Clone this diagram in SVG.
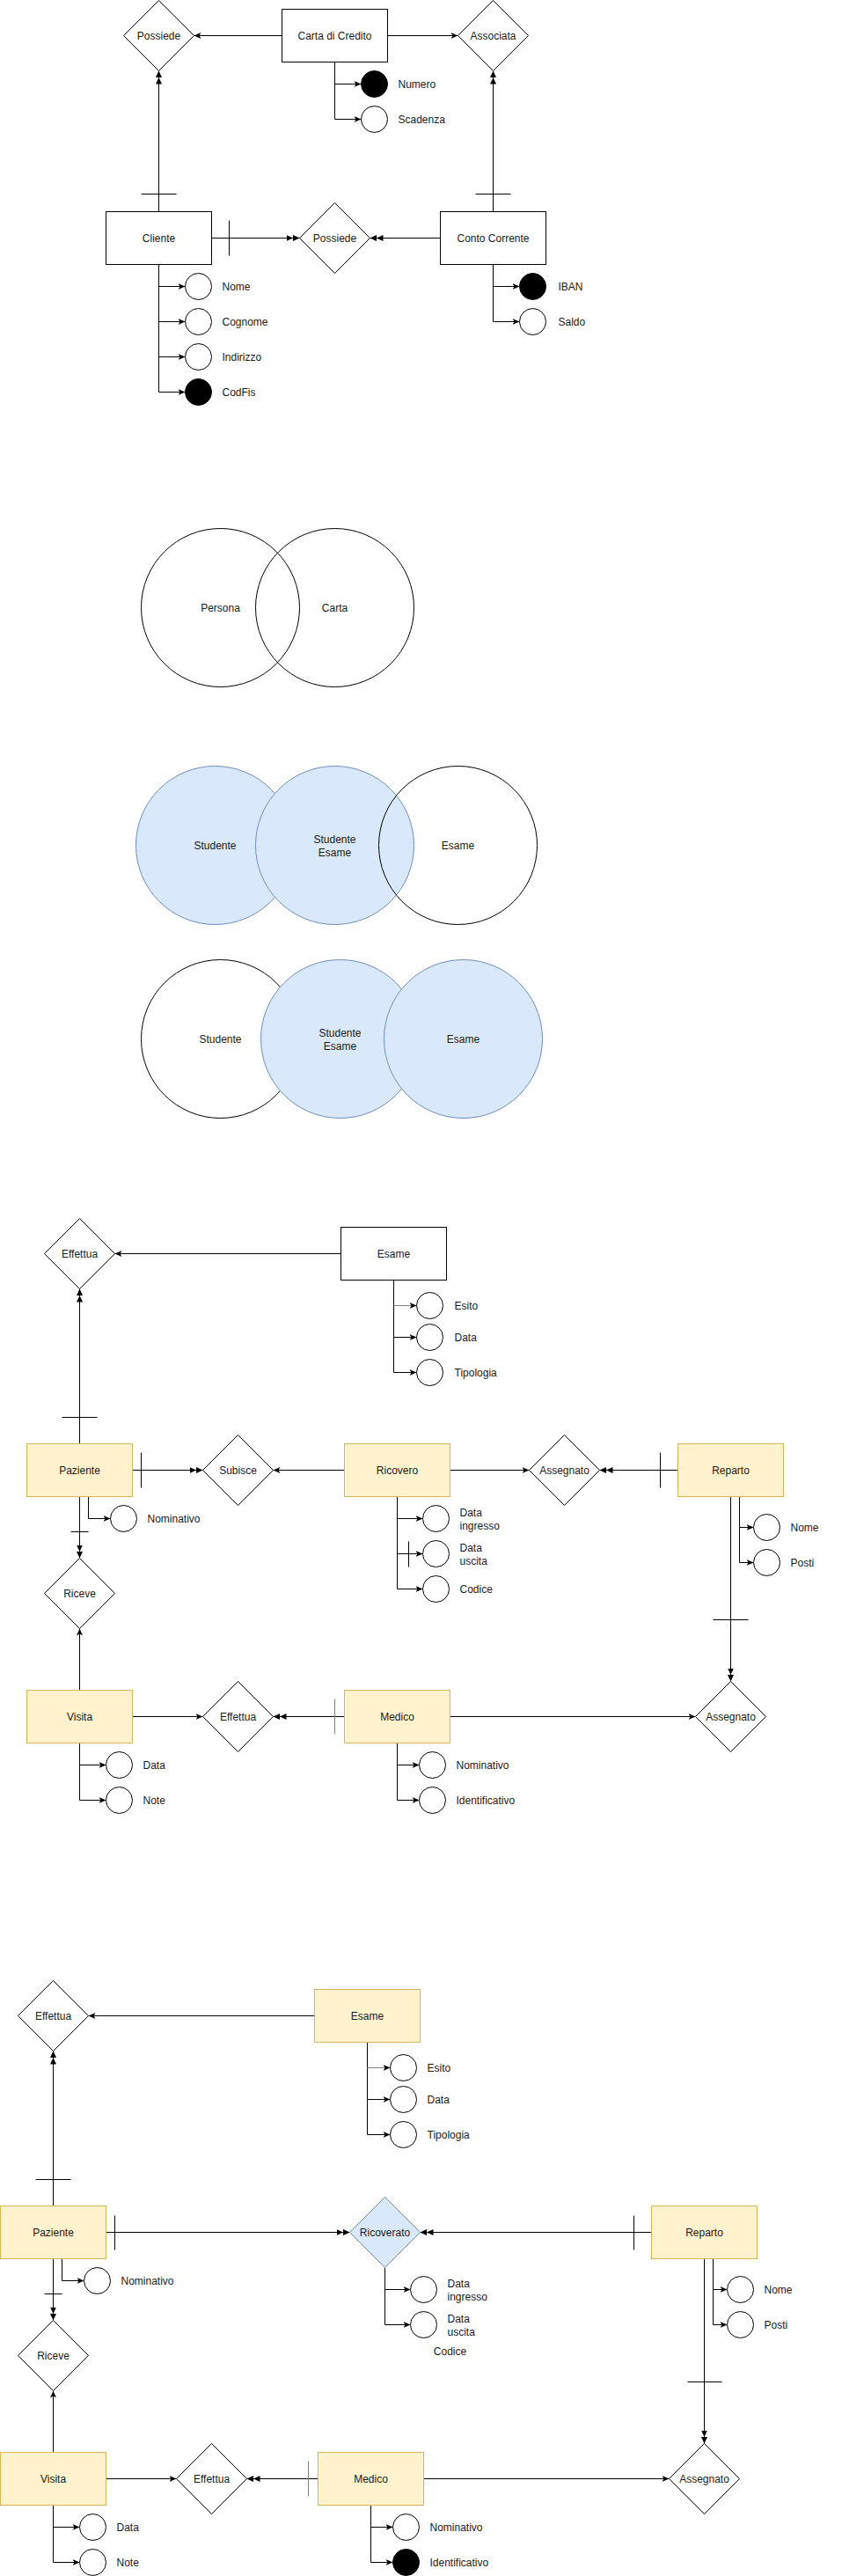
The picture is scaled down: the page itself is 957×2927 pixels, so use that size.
<svg xmlns="http://www.w3.org/2000/svg" width="957" height="2927" viewBox="0 0 957 2927">
<style>
text{font-family:"Liberation Sans",Arial,sans-serif;font-size:12px;fill:#1a1a1a}
.c{text-anchor:middle}
.ent{fill:#fff;stroke:#000;stroke-width:1}
.yel{fill:#fff2cc;stroke:#d6b656;stroke-width:1}
.blu{fill:#dae8fc;stroke:#6c8ebf;stroke-width:1}
.rel{fill:#fff;stroke:#000;stroke-width:1}
.att{fill:#fff;stroke:#000;stroke-width:1}
.key{fill:#000;stroke:#000;stroke-width:1}
.ln{fill:none;stroke:#000;stroke-width:1}
.a1{marker-end:url(#arr)}
.a2{marker-end:url(#dbl)}
.gray{stroke:#808080}
.venn{fill:none;stroke:#000;stroke-width:1}
</style>
<defs>
<marker id="arr" viewBox="0 0 8 8" refX="8" refY="4" markerWidth="8" markerHeight="8" markerUnits="userSpaceOnUse" orient="auto">
<path d="M0,0.5 L8,4 L0,7.5 L2,4 Z" fill="#000"/>
</marker>
<marker id="dbl" viewBox="0 0 15 8" refX="15" refY="4" markerWidth="15" markerHeight="8" markerUnits="userSpaceOnUse" orient="auto">
<path d="M0,0.5 L7.5,4 L0,7.5 Z M7.5,0.5 L15,4 L7.5,7.5 Z" fill="#000"/>
</marker>
</defs>
<rect x="0" y="0" width="957" height="2927" fill="#fff"/>
<g transform="translate(0.5,0.5)">

<!-- ===== Connectors ===== -->
<g id="connectors">
<!-- Bank -->
<path class="ln a1" d="M320,40 H220"/>
<path class="ln a1" d="M440,40 H520"/>
<path class="ln" d="M380,70 V135"/>
<path class="ln a1" d="M380,95 H410"/>
<path class="ln a1" d="M380,135 H410"/>
<path class="ln a2" d="M180,240 V80"/>
<path class="ln" d="M160,220 H200"/>
<path class="ln a2" d="M240,270 H340"/>
<path class="ln" d="M260,250 V290"/>
<path class="ln a2" d="M500,270 H420"/>
<path class="ln a2" d="M560,240 V80"/>
<path class="ln" d="M540,220 H580"/>
<path class="ln" d="M180,300 V445"/>
<path class="ln a1" d="M180,325 H210"/>
<path class="ln a1" d="M180,365 H210"/>
<path class="ln a1" d="M180,405 H210"/>
<path class="ln a1" d="M180,445 H210"/>
<path class="ln" d="M560,300 V365"/>
<path class="ln a1" d="M560,325 H590"/>
<path class="ln a1" d="M560,365 H590"/>

<!-- Hospital 1 -->
<path class="ln a1" d="M387,1424 H130"/>
<path class="ln" d="M447,1454 V1559"/>
<path class="ln a1 gray" d="M447,1483 H473"/>
<path class="ln a1" d="M447,1519 H473"/>
<path class="ln a1" d="M447,1559 H473"/>
<path class="ln a2" d="M90,1640 V1464"/>
<path class="ln" d="M70,1610 H110"/>
<path class="ln a2" d="M150,1670 H230"/>
<path class="ln" d="M160,1650 V1690"/>
<path class="ln a1" d="M391,1670 H310"/>
<path class="ln a1" d="M511,1670 H601"/>
<path class="ln a2" d="M770,1670 H681"/>
<path class="ln" d="M750,1650 V1690"/>
<path class="ln a1" d="M100,1700 V1725 H125"/>
<path class="ln a2" d="M90,1700 V1770"/>
<path class="ln" d="M80,1740 H100"/>
<path class="ln a1" d="M90,1920 V1850"/>
<path class="ln a1" d="M150,1950 H230"/>
<path class="ln a2" d="M391,1950 H310"/>
<path class="ln gray" d="M380,1930 V1970"/>
<path class="ln a1" d="M511,1950 H790"/>
<path class="ln a2" d="M830,1700 V1910"/>
<path class="ln" d="M810,1840 H850"/>
<path class="ln" d="M840,1700 V1775"/>
<path class="ln a1" d="M840,1735 H856"/>
<path class="ln a1" d="M840,1775 H856"/>
<path class="ln" d="M451,1700 V1805"/>
<path class="ln a1" d="M451,1725 H480"/>
<path class="ln a1" d="M451,1765 H480"/>
<path class="ln a1" d="M451,1805 H480"/>
<path class="ln" d="M464,1751 V1780"/>
<path class="ln" d="M90,1980 V2045"/>
<path class="ln a1" d="M90,2005 H120"/>
<path class="ln a1" d="M90,2045 H120"/>
<path class="ln" d="M451,1980 V2045"/>
<path class="ln a1" d="M451,2005 H476"/>
<path class="ln a1" d="M451,2045 H476"/>

<!-- Hospital 2 -->
<path class="ln a1" d="M357,2290 H100"/>
<path class="ln" d="M417,2320 V2425"/>
<path class="ln a1 gray" d="M417,2349 H443"/>
<path class="ln a1" d="M417,2385 H443"/>
<path class="ln a1" d="M417,2425 H443"/>
<path class="ln a2" d="M60,2506 V2330"/>
<path class="ln" d="M40,2476 H80"/>
<path class="ln a2" d="M120,2536 H397"/>
<path class="ln" d="M130,2517 V2556"/>
<path class="ln a2" d="M740,2536 H477"/>
<path class="ln" d="M720,2517 V2556"/>
<path class="ln" d="M437,2576 V2641"/>
<path class="ln a1" d="M437,2601 H466"/>
<path class="ln a1" d="M437,2641 H466"/>
<path class="ln" d="M810,2566 V2641"/>
<path class="ln a1" d="M810,2601 H826"/>
<path class="ln a1" d="M810,2641 H826"/>
<path class="ln a2" d="M800,2566 V2776"/>
<path class="ln" d="M781,2706 H820"/>
<path class="ln a1" d="M70,2566 V2591 H95"/>
<path class="ln a2" d="M60,2566 V2636"/>
<path class="ln" d="M50,2606 H70"/>
<path class="ln a1" d="M60,2786 V2716"/>
<path class="ln a1" d="M120,2816 H200"/>
<path class="ln a2" d="M361,2816 H280"/>
<path class="ln gray" d="M350,2796 V2836"/>
<path class="ln a1" d="M481,2816 H760"/>
<path class="ln" d="M60,2846 V2911"/>
<path class="ln a1" d="M60,2871 H90"/>
<path class="ln a1" d="M60,2911 H90"/>
<path class="ln" d="M421,2846 V2911"/>
<path class="ln a1" d="M421,2871 H446"/>
<path class="ln a1" d="M421,2911 H446"/>
</g>

<!-- ===== Bank diagram nodes ===== -->
<g id="possiede-top"><polygon class="rel" points="180,0 220,40 180,80 140,40"/><text class="c" x="180" y="44">Possiede</text></g>
<g id="carta-di-credito"><rect class="ent" x="320" y="10" width="120" height="60"/><text class="c" x="380" y="44">Carta di Credito</text></g>
<g id="associata"><polygon class="rel" points="560,0 600,40 560,80 520,40"/><text class="c" x="560" y="44">Associata</text></g>
<g id="attr-numero"><circle class="key" cx="425" cy="95" r="15"/><text x="452" y="99">Numero</text></g>
<g id="attr-scadenza"><circle class="att" cx="425" cy="135" r="15"/><text x="452" y="139">Scadenza</text></g>
<g id="cliente"><rect class="ent" x="120" y="240" width="120" height="60"/><text class="c" x="180" y="274">Cliente</text></g>
<g id="possiede-mid"><polygon class="rel" points="380,230 420,270 380,310 340,270"/><text class="c" x="380" y="274">Possiede</text></g>
<g id="conto-corrente"><rect class="ent" x="500" y="240" width="120" height="60"/><text class="c" x="560" y="274">Conto Corrente</text></g>
<g id="attr-nome"><circle class="att" cx="225" cy="325" r="15"/><text x="252" y="329">Nome</text></g>
<g id="attr-cognome"><circle class="att" cx="225" cy="365" r="15"/><text x="252" y="369">Cognome</text></g>
<g id="attr-indirizzo"><circle class="att" cx="225" cy="405" r="15"/><text x="252" y="409">Indirizzo</text></g>
<g id="attr-codfis"><circle class="key" cx="225" cy="445" r="15"/><text x="252" y="449">CodFis</text></g>
<g id="attr-iban"><circle class="key" cx="605" cy="325" r="15"/><text x="634" y="329">IBAN</text></g>
<g id="attr-saldo"><circle class="att" cx="605" cy="365" r="15"/><text x="634" y="369">Saldo</text></g>

<!-- ===== Venn diagrams ===== -->
<g id="venn-persona"><circle class="venn" cx="250" cy="690" r="90"/><text class="c" x="250" y="694">Persona</text></g>
<g id="venn-carta"><circle class="venn" cx="380" cy="690" r="90"/><text class="c" x="380" y="694">Carta</text></g>

<g id="venn1-studente"><circle class="blu" cx="244" cy="960" r="90"/><text class="c" x="244" y="964">Studente</text></g>
<g id="venn1-studente-esame"><circle class="blu" cx="380" cy="960" r="90"/><text class="c" x="380" y="957">Studente</text><text class="c" x="380" y="972">Esame</text></g>
<g id="venn1-esame"><circle class="venn" cx="520" cy="960" r="90"/><text class="c" x="520" y="964">Esame</text></g>

<g id="venn2-studente"><circle class="ent" cx="250" cy="1180" r="90"/><text class="c" x="250" y="1184">Studente</text></g>
<g id="venn2-studente-esame"><circle class="blu" cx="386" cy="1180" r="90"/><text class="c" x="386" y="1177">Studente</text><text class="c" x="386" y="1192">Esame</text></g>
<g id="venn2-esame"><circle class="blu" cx="526" cy="1180" r="90"/><text class="c" x="526" y="1184">Esame</text></g>

<!-- ===== Hospital 1 ===== -->
<g id="h1-effettua-top"><polygon class="rel" points="90,1384 130,1424 90,1464 50,1424"/><text class="c" x="90" y="1428">Effettua</text></g>
<g id="h1-esame"><rect class="ent" x="387" y="1394" width="120" height="60"/><text class="c" x="447" y="1428">Esame</text></g>
<g id="h1-attr-esito"><circle class="att" cx="488" cy="1483" r="15"/><text x="516" y="1487">Esito</text></g>
<g id="h1-attr-data-esame"><circle class="att" cx="488" cy="1519" r="15"/><text x="516" y="1523">Data</text></g>
<g id="h1-attr-tipologia"><circle class="att" cx="488" cy="1559" r="15"/><text x="516" y="1563">Tipologia</text></g>
<g id="h1-paziente"><rect class="yel" x="30" y="1640" width="120" height="60"/><text class="c" x="90" y="1674">Paziente</text></g>
<g id="h1-subisce"><polygon class="rel" points="270,1630 310,1670 270,1710 230,1670"/><text class="c" x="270" y="1674">Subisce</text></g>
<g id="h1-ricovero"><rect class="yel" x="391" y="1640" width="120" height="60"/><text class="c" x="451" y="1674">Ricovero</text></g>
<g id="h1-assegnato-mid"><polygon class="rel" points="641,1630 681,1670 641,1710 601,1670"/><text class="c" x="641" y="1674">Assegnato</text></g>
<g id="h1-reparto"><rect class="yel" x="770" y="1640" width="120" height="60"/><text class="c" x="830" y="1674">Reparto</text></g>
<g id="h1-attr-nominativo-paz"><circle class="att" cx="140" cy="1725" r="15"/><text x="167" y="1729">Nominativo</text></g>
<g id="h1-attr-data-ingresso"><circle class="att" cx="495" cy="1725" r="15"/><text x="522" y="1722">Data</text><text x="522" y="1737">ingresso</text></g>
<g id="h1-attr-data-uscita"><circle class="att" cx="495" cy="1765" r="15"/><text x="522" y="1762">Data</text><text x="522" y="1777">uscita</text></g>
<g id="h1-attr-codice"><circle class="att" cx="495" cy="1805" r="15"/><text x="522" y="1809">Codice</text></g>
<g id="h1-attr-nome-rep"><circle class="att" cx="871" cy="1735" r="15"/><text x="898" y="1739">Nome</text></g>
<g id="h1-attr-posti"><circle class="att" cx="871" cy="1775" r="15"/><text x="898" y="1779">Posti</text></g>
<g id="h1-riceve"><polygon class="rel" points="90,1770 130,1810 90,1850 50,1810"/><text class="c" x="90" y="1814">Riceve</text></g>
<g id="h1-visita"><rect class="yel" x="30" y="1920" width="120" height="60"/><text class="c" x="90" y="1954">Visita</text></g>
<g id="h1-effettua-bottom"><polygon class="rel" points="270,1910 310,1950 270,1990 230,1950"/><text class="c" x="270" y="1954">Effettua</text></g>
<g id="h1-medico"><rect class="yel" x="391" y="1920" width="120" height="60"/><text class="c" x="451" y="1954">Medico</text></g>
<g id="h1-assegnato-bottom"><polygon class="rel" points="830,1910 870,1950 830,1990 790,1950"/><text class="c" x="830" y="1954">Assegnato</text></g>
<g id="h1-attr-data-visita"><circle class="att" cx="135" cy="2005" r="15"/><text x="162" y="2009">Data</text></g>
<g id="h1-attr-note"><circle class="att" cx="135" cy="2045" r="15"/><text x="162" y="2049">Note</text></g>
<g id="h1-attr-nominativo-med"><circle class="att" cx="491" cy="2005" r="15"/><text x="518" y="2009">Nominativo</text></g>
<g id="h1-attr-identificativo"><circle class="att" cx="491" cy="2045" r="15"/><text x="518" y="2049">Identificativo</text></g>

<!-- ===== Hospital 2 ===== -->
<g id="h2-effettua-top"><polygon class="rel" points="60,2250 100,2290 60,2330 20,2290"/><text class="c" x="60" y="2294">Effettua</text></g>
<g id="h2-esame"><rect class="yel" x="357" y="2260" width="120" height="60"/><text class="c" x="417" y="2294">Esame</text></g>
<g id="h2-attr-esito"><circle class="att" cx="458" cy="2349" r="15"/><text x="485" y="2353">Esito</text></g>
<g id="h2-attr-data-esame"><circle class="att" cx="458" cy="2385" r="15"/><text x="485" y="2389">Data</text></g>
<g id="h2-attr-tipologia"><circle class="att" cx="458" cy="2425" r="15"/><text x="485" y="2429">Tipologia</text></g>
<g id="h2-paziente"><rect class="yel" x="0" y="2506" width="120" height="60"/><text class="c" x="60" y="2540">Paziente</text></g>
<g id="h2-ricoverato"><polygon class="blu" points="437,2496 477,2536 437,2576 397,2536"/><text class="c" x="437" y="2540">Ricoverato</text></g>
<g id="h2-reparto"><rect class="yel" x="740" y="2506" width="120" height="60"/><text class="c" x="800" y="2540">Reparto</text></g>
<g id="h2-attr-nominativo-paz"><circle class="att" cx="110" cy="2591" r="15"/><text x="137" y="2595">Nominativo</text></g>
<g id="h2-attr-data-ingresso"><circle class="att" cx="481" cy="2601" r="15"/><text x="508" y="2598">Data</text><text x="508" y="2613">ingresso</text></g>
<g id="h2-attr-data-uscita"><circle class="att" cx="481" cy="2641" r="15"/><text x="508" y="2638">Data</text><text x="508" y="2653">uscita</text></g>
<g id="h2-codice"><text class="c" x="511" y="2675">Codice</text></g>
<g id="h2-attr-nome-rep"><circle class="att" cx="841" cy="2601" r="15"/><text x="868" y="2605">Nome</text></g>
<g id="h2-attr-posti"><circle class="att" cx="841" cy="2641" r="15"/><text x="868" y="2645">Posti</text></g>
<g id="h2-riceve"><polygon class="rel" points="60,2636 100,2676 60,2716 20,2676"/><text class="c" x="60" y="2680">Riceve</text></g>
<g id="h2-visita"><rect class="yel" x="0" y="2786" width="120" height="60"/><text class="c" x="60" y="2820">Visita</text></g>
<g id="h2-effettua-bottom"><polygon class="rel" points="240,2776 280,2816 240,2856 200,2816"/><text class="c" x="240" y="2820">Effettua</text></g>
<g id="h2-medico"><rect class="yel" x="361" y="2786" width="120" height="60"/><text class="c" x="421" y="2820">Medico</text></g>
<g id="h2-assegnato"><polygon class="rel" points="800,2776 840,2816 800,2856 760,2816"/><text class="c" x="800" y="2820">Assegnato</text></g>
<g id="h2-attr-data-visita"><circle class="att" cx="105" cy="2871" r="15"/><text x="132" y="2875">Data</text></g>
<g id="h2-attr-note"><circle class="att" cx="105" cy="2911" r="15"/><text x="132" y="2915">Note</text></g>
<g id="h2-attr-nominativo-med"><circle class="att" cx="461" cy="2871" r="15"/><text x="488" y="2875">Nominativo</text></g>
<g id="h2-attr-identificativo"><circle class="key" cx="461" cy="2911" r="15"/><text x="488" y="2915">Identificativo</text></g>
</g>
</svg>
